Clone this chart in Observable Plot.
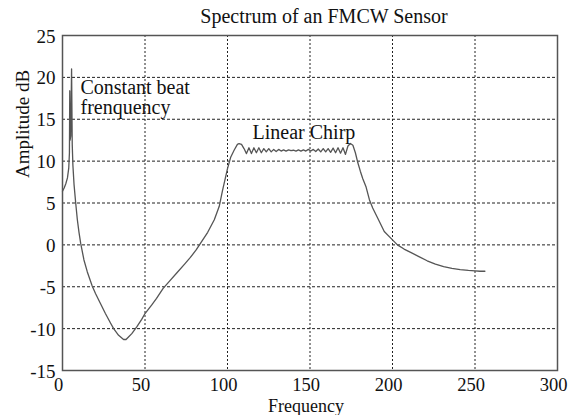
<!DOCTYPE html>
<html>
<head>
<meta charset="utf-8">
<script src="https://cdn.jsdelivr.net/npm/d3@7"></script>
<script src="https://cdn.jsdelivr.net/npm/@observablehq/plot@0.6"></script>
<style>
  html, body { margin: 0; padding: 0; background: #fff; }
</style>
</head>
<body>
<div id="chart"></div>
<script>
const freq = [0, 1, 2, 3, 3.8, 4.2, 4.4, 4.6, 5.0, 5.5, 5.9, 6.3, 7, 8, 9, 10, 11, 13, 15, 18, 20, 23, 26, 29, 31, 34, 37, 38.5, 40, 42, 45, 48, 50, 54, 57, 61, 65, 69.5, 74, 77.5, 81, 84, 88, 92, 95, 97, 100, 102, 104, 106, 107, 108.5, 110, 111.5,
  113, 114.5, 116, 117.5, 119, 120.5, 122, 123.5, 125, 126.5, 128, 129.5, 131, 132.5, 134, 135.5, 137, 138.5, 140, 141.5, 143, 144.5, 146, 147.5, 149, 150.5, 152, 153.5, 155, 156.5, 158, 159.5, 161, 162.5, 164, 165.5, 167, 168.5, 170, 171.5,
  173, 174.5, 176, 177.5, 179, 180.5, 182, 184, 186, 188, 191, 195, 200, 203, 207, 211, 216, 221, 226, 231, 236, 241, 246, 250, 253, 256];
const amp = [6.4, 6.8, 7.3, 8.0, 9.2, 11, 18.4, 12.5, 13, 21.0, 12, 9.5, 7.2, 5.0, 3.0, 1.5, 0.2, -1.8, -3.2, -4.9, -5.8, -7.0, -8.2, -9.3, -10.0, -10.8, -11.3, -11.3, -11.0, -10.6, -9.8, -8.9, -8.2, -7.2, -6.4, -5.2, -4.3, -3.3, -2.3, -1.5, -0.6, 0.3, 1.5, 3.0, 4.6, 6.5, 9.1, 10.5, 11.3, 12.0, 12.1, 12.0, 11.5, 10.9,
  11.6, 10.9, 11.6, 11.0, 11.6, 11.0, 11.5, 11.1, 11.5, 11.1, 11.4, 11.15, 11.4, 11.2, 11.35, 11.2, 11.35, 11.25, 11.3, 11.2, 11.35, 11.2, 11.35, 11.2, 11.4, 11.2, 11.4, 11.15, 11.45, 11.1, 11.5, 11.1, 11.5, 11.05, 11.55, 11.0, 11.6, 10.95, 11.6, 10.8,
  11.8, 12.1, 11.9, 11.0, 9.8, 8.8, 7.9, 6.9, 5.4, 4.4, 3.2, 1.6, 0.6, 0.0, -0.5, -0.9, -1.4, -1.9, -2.3, -2.6, -2.8, -2.95, -3.05, -3.1, -3.15, -3.15];

const xTicks = [0, 50, 100, 150, 200, 250, 300];
const yTicks = [-15, -10, -5, 0, 5, 10, 15, 20, 25];

const noteText = ["Constant beat", "frenquency", "Linear Chirp"];
const noteX = [10.9, 10.9, 115.2];
const noteY = [18.0, 15.6, 12.7];

const titleText = "Spectrum of an FMCW Sensor";
const xLabel = "Frequency";
const yLabel = "Amplitude dB";

const data = freq.map((f, i) => ({f, a: amp[i]}));
const notes = noteText.map((t, i) => ({t, x: noteX[i], y: noteY[i]}));

const font = "'Liberation Serif', 'Times New Roman', serif";

const chart = Plot.plot({
  width: 578,
  height: 415,
  marginLeft: 62,
  marginRight: 21,
  marginTop: 35,
  marginBottom: 45,
  style: {fontFamily: font, fontSize: "20px", background: "#fff", color: "#111"},
  x: {domain: [0, 300], ticks: xTicks},
  y: {domain: [-15, 25], ticks: yTicks},
  marks: [
    Plot.gridX(xTicks, {stroke: "#222", strokeOpacity: 1, strokeWidth: 1, strokeDasharray: "2,2"}),
    Plot.gridY(yTicks, {stroke: "#222", strokeOpacity: 1, strokeWidth: 1, strokeDasharray: "3,2"}),
    Plot.axisX(xTicks, {tickSize: 0, tickPadding: 7, dx: -4, fontSize: 18.5, tickFormat: d => String(d), label: null}),
    Plot.axisY(yTicks, {tickSize: 0, tickPadding: 7, dy: 1, fontSize: 19, tickFormat: d => String(d), label: null}),
    Plot.line(data, {x: "f", y: "a", stroke: "#555", strokeWidth: 1.3}),
    Plot.frame({stroke: "#555", strokeWidth: 1.5}),
    Plot.text(notes, {x: "x", y: "y", text: "t", textAnchor: "start", lineAnchor: "bottom", fontSize: 20, fill: "#111"}),
    Plot.text([titleText], {frameAnchor: "top", dx: 14, dy: -13, lineAnchor: "bottom", fontSize: 20, fill: "#111"}),
    Plot.text([xLabel], {frameAnchor: "bottom", dx: -4, dy: 41, lineAnchor: "bottom", fontSize: 18, fill: "#111"}),
    Plot.text([yLabel], {frameAnchor: "left", dx: -40, dy: -25, rotate: -90, lineAnchor: "middle", fontSize: 19, fill: "#111"})
  ]
});
document.getElementById("chart").appendChild(chart);
</script>
</body>
</html>
